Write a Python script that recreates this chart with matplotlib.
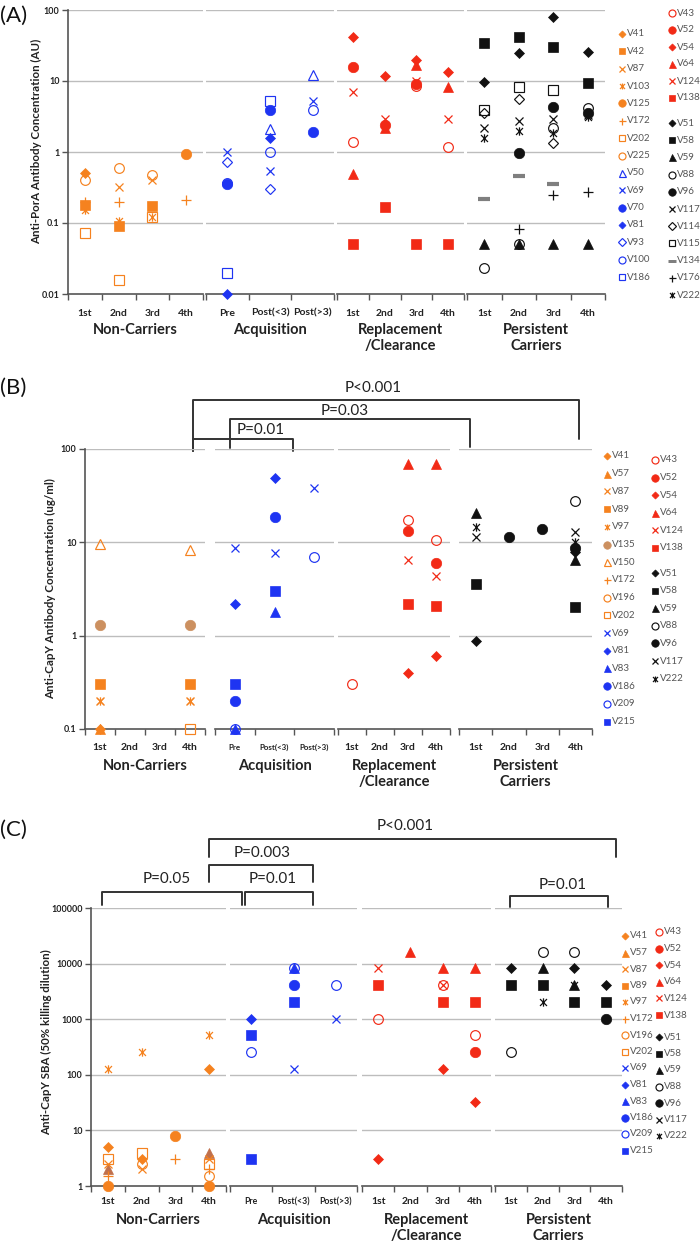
import numpy as np
import matplotlib
matplotlib.use('Agg')
import matplotlib.pyplot as plt
from matplotlib.path import Path

plt.rcParams['font.family'] = ['Lato', 'DejaVu Sans']

W, H = 700, 1246
na = np.nan

# categories: 4 non-carrier visits, 3 acquisition, 4 replacement, 4 persistent
CATS = ['1st', '2nd', '3rd', '4th', 'Pre', 'Post(<3)', 'Post(>3)',
        '1st', '2nd', '3rd', '4th', '1st', '2nd', '3rd', '4th']
GROUP_SIZES = [4, 3, 4, 4]
GROUPS = ['Non-Carriers', 'Acquisition', 'Replacement\n/Clearance', 'Persistent\nCarriers']

# ---- panel A : anti-PorA (AU)
porA = {
    'V41':  [0.5, na, na, na,      na, na, na,       na, na, na, na,        na, na, na, na],
    'V42':  [0.18, 0.09, 0.175, na, na, na, na,      na, na, na, na,        na, na, na, na],
    'V87':  [na, 0.32, 0.4, na,    na, na, na,       na, na, na, na,        na, na, na, na],
    'V103': [0.15, 0.105, 0.12, na, na, na, na,      na, na, na, na,        na, na, na, na],
    'V125': [na, na, na, 0.95,     na, na, na,       na, na, na, na,        na, na, na, na],
    'V172': [0.2, 0.2, na, 0.21,   na, na, na,       na, na, na, na,        na, na, na, na],
    'V202': [0.072, 0.016, 0.12, na, na, na, na,     na, na, na, na,        na, na, na, na],
    'V225': [0.4, 0.6, 0.48, na,   na, na, na,       na, na, na, na,        na, na, na, na],
    'V50':  [na, na, na, na,       na, 2.1, 12,      na, na, na, na,        na, na, na, na],
    'V69':  [na, na, na, na,       1.0, 0.54, 5.2,   na, na, na, na,        na, na, na, na],
    'V70':  [na, na, na, na,       0.36, 3.9, 1.9,   na, na, na, na,        na, na, na, na],
    'V81':  [na, na, na, na,       0.01, 1.6, na,    na, na, na, na,        na, na, na, na],
    'V93':  [na, na, na, na,       0.72, 0.3, na,    na, na, na, na,        na, na, na, na],
    'V100': [na, na, na, na,       0.37, 1.0, 3.9,   na, na, na, na,        na, na, na, na],
    'V186': [na, na, na, na,       0.02, 5.3, na,    na, na, na, na,        na, na, na, na],
    'V43':  [na, na, na, na,       na, na, na,       1.38, na, 8.5, 1.17,   na, na, na, na],
    'V52':  [na, na, na, na,       na, na, na,       15.8, 2.4, 9.0, na,    na, na, na, na],
    'V54':  [na, na, na, na,       na, na, na,       41, 11.8, 20, 13.4,    na, na, na, na],
    'V64':  [na, na, na, na,       na, na, na,       0.49, 2.2, 17, 8.2,    na, na, na, na],
    'V124': [na, na, na, na,       na, na, na,       7, 2.9, 10, 2.9,       na, na, na, na],
    'V138': [na, na, na, na,       na, na, na,       0.05, 0.17, 0.05, 0.05, na, na, na, na],
    'V51':  [na, na, na, na,       na, na, na,       na, na, na, na,        9.7, 24.6, 79, 25.7],
    'V58':  [na, na, na, na,       na, na, na,       na, na, na, na,        34, 42, 30, 9.3],
    'V59':  [na, na, na, na,       na, na, na,       na, na, na, na,        0.05, 0.05, 0.05, 0.05],
    'V88':  [na, na, na, na,       na, na, na,       na, na, na, na,        0.023, 0.05, 2.2, 4.1],
    'V96':  [na, na, na, na,       na, na, na,       na, na, na, na,        na, 0.97, 4.3, 3.6],
    'V117': [na, na, na, na,       na, na, na,       na, na, na, na,        2.2, 2.76, 2.9, 3.3],
    'V114': [na, na, na, na,       na, na, na,       na, na, na, na,        3.5, 5.6, 1.34, na],
    'V115': [na, na, na, na,       na, na, na,       na, na, na, na,        3.9, 8.2, 7.4, na],
    'V134': [na, na, na, na,       na, na, na,       na, na, na, na,        0.22, 0.46, 0.36, na],
    'V176': [na, na, na, na,       na, na, na,       na, na, na, na,        na, 0.083, 0.25, 0.27],
    'V222': [na, na, na, na,       na, na, na,       na, na, na, na,        1.57, 1.98, 1.86, 3.1],
}

# ---- panel B : anti-CapY (ug/ml)
capY = {
    'V41':  [0.1, na, na, na,      na, na, na,       na, na, na, na,        na, na, na, na],
    'V57':  [0.1, na, na, na,      na, na, na,       na, na, na, na,        na, na, na, na],
    'V87':  [0.2, na, na, 0.2,     na, na, na,       na, na, na, na,        na, na, na, na],
    'V89':  [0.3, na, na, 0.3,     na, na, na,       na, na, na, na,        na, na, na, na],
    'V97':  [0.2, na, na, 0.2,     na, na, na,       na, na, na, na,        na, na, na, na],
    'V135': [1.3, na, na, 1.3,     na, na, na,       na, na, na, na,        na, na, na, na],
    'V150': [9.6, na, na, 8.3,     na, na, na,       na, na, na, na,        na, na, na, na],
    'V202': [na, na, na, 0.1,      na, na, na,       na, na, na, na,        na, na, na, na],
    'V69':  [na, na, na, na,       8.7, 7.7, 38.5,   na, na, na, na,        na, na, na, na],
    'V81':  [na, na, na, na,       2.2, 49, na,      na, na, na, na,        na, na, na, na],
    'V83':  [na, na, na, na,       0.1, 1.8, na,     na, na, na, na,        na, na, na, na],
    'V186': [na, na, na, na,       0.2, 18.7, na,    na, na, na, na,        na, na, na, na],
    'V209': [na, na, na, na,       0.1, na, 7.0,     na, na, na, na,        na, na, na, na],
    'V215': [na, na, na, na,       0.3, 3.0, na,     na, na, na, na,        na, na, na, na],
    'V43':  [na, na, na, na,       na, na, na,       0.3, na, 17.3, 10.6,   na, na, na, na],
    'V52':  [na, na, na, na,       na, na, na,       na, na, 13.2, 6.0,     na, na, na, na],
    'V54':  [na, na, na, na,       na, na, na,       na, na, 0.4, 0.6,      na, na, na, na],
    'V64':  [na, na, na, na,       na, na, na,       na, na, 69, 69,        na, na, na, na],
    'V124': [na, na, na, na,       na, na, na,       na, na, 6.5, 4.4,      na, na, na, na],
    'V138': [na, na, na, na,       na, na, na,       na, na, 2.2, 2.1,      na, na, na, na],
    'V51':  [na, na, na, na,       na, na, na,       na, na, na, na,        0.87, na, na, 7.9],
    'V58':  [na, na, na, na,       na, na, na,       na, na, na, na,        3.6, na, na, 2.05],
    'V59':  [na, na, na, na,       na, na, na,       na, na, na, na,        20.6, na, na, 6.5],
    'V88':  [na, na, na, na,       na, na, na,       na, na, na, na,        na, na, na, 27.8],
    'V96':  [na, na, na, na,       na, na, na,       na, na, na, na,        na, 11.3, 13.9, 8.7],
    'V117': [na, na, na, na,       na, na, na,       na, na, na, na,        11.4, na, na, 12.8],
    'V222': [na, na, na, na,       na, na, na,       na, na, na, na,        14.5, na, na, 10],
}

# ---- panel C : anti-CapY SBA (50% killing dilution)
sba = {
    'V41':  [5, 3, na, 128,        na, na, na,       na, na, na, na,        na, na, na, na],
    'V57':  [2, na, na, 4,         na, na, na,       na, na, na, na,        na, na, na, na],
    'V87':  [2.5, 2, na, 3,        na, na, na,       na, na, na, na,        na, na, na, na],
    'V97':  [128, 256, na, 512,    na, na, na,       na, na, na, na,        na, na, na, na],
    'V135': [1, na, 8, 1,          na, na, na,       na, na, na, na,        na, na, na, na],
    'V172': [1.5, na, 3, 2,        na, na, na,       na, na, na, na,        na, na, na, na],
    'V196': [na, 2.5, na, 1.5,     na, na, na,       na, na, na, na,        na, na, na, na],
    'V202': [3, 4, na, 2.5,        na, na, na,       na, na, na, na,        na, na, na, na],
    'V69':  [na, na, na, na,       na, 128, 1024,    na, na, na, na,        na, na, na, na],
    'V81':  [na, na, na, na,       1024, na, na,     na, na, na, na,        na, na, na, na],
    'V83':  [na, na, na, na,       na, 8192, na,     na, na, na, na,        na, na, na, na],
    'V186': [na, na, na, na,       na, 4096, na,     na, na, na, na,        na, na, na, na],
    'V209': [na, na, na, na,       256, 8192, 4096,  na, na, na, na,        na, na, na, na],
    'V215': [na, na, na, na,       (512, 3), 2048, na, na, na, na, na,      na, na, na, na],
    'V43':  [na, na, na, na,       na, na, na,       1024, na, 4096, 512,   na, na, na, na],
    'V52':  [na, na, na, na,       na, na, na,       na, na, na, 256,       na, na, na, na],
    'V54':  [na, na, na, na,       na, na, na,       3, na, 128, 32,        na, na, na, na],
    'V64':  [na, na, na, na,       na, na, na,       na, 16384, 8192, 8192, na, na, na, na],
    'V124': [na, na, na, na,       na, na, na,       8192, na, 4096, na,    na, na, na, na],
    'V138': [na, na, na, na,       na, na, na,       4096, na, 2048, 2048,  na, na, na, na],
    'V51':  [na, na, na, na,       na, na, na,       na, na, na, na,        8192, na, 8192, 4096],
    'V58':  [na, na, na, na,       na, na, na,       na, na, na, na,        4096, 4096, 2048, 2048],
    'V59':  [na, na, na, na,       na, na, na,       na, na, na, na,        na, 8192, 4096, na],
    'V88':  [na, na, na, na,       na, na, na,       na, na, na, na,        256, 16384, 16384, na],
    'V96':  [na, na, na, na,       na, na, na,       na, na, na, na,        na, na, na, 1024],
    'V222': [na, na, na, na,       na, na, na,       na, na, na, na,        na, 2048, 4096, na],
}

# legend order (per column)
LEG_A = [['V41', 'V42', 'V87', 'V103', 'V125', 'V172', 'V202', 'V225',
          'V50', 'V69', 'V70', 'V81', 'V93', 'V100', 'V186'],
         ['V43', 'V52', 'V54', 'V64', 'V124', 'V138'],
         ['V51', 'V58', 'V59', 'V88', 'V96', 'V117', 'V114', 'V115', 'V134', 'V176', 'V222']]
LEG_B = [['V41', 'V57', 'V87', 'V89', 'V97', 'V135', 'V150', 'V172', 'V196', 'V202',
          'V69', 'V81', 'V83', 'V186', 'V209', 'V215'],
         ['V43', 'V52', 'V54', 'V64', 'V124', 'V138'],
         ['V51', 'V58', 'V59', 'V88', 'V96', 'V117', 'V222']]
LEG_C = [['V41', 'V57', 'V87', 'V89', 'V97', 'V172', 'V196', 'V202',
          'V69', 'V81', 'V83', 'V186', 'V209', 'V215'],
         ['V43', 'V52', 'V54', 'V64', 'V124', 'V138'],
         ['V51', 'V58', 'V59', 'V88', 'V96', 'V117', 'V222']]

# p-value brackets: left x, right x, top y, left foot, right foot, label
BRK_B = [(193, 579, 400, 451, 439, 'P<0.001'),
         (230, 470, 419, 448, 447, 'P=0.03'),
         (193, 293, 439, 451, 451, 'P=0.01')]
BRK_B_TXT = [(373, 388), (345, 411), (261, 430)]
BRK_C = [(102, 242, 892, 905, 905, 'P=0.05'),
         (245, 313, 892, 905, 905, 'P=0.01'),
         (209, 313, 865, 882, 882, 'P=0.003'),
         (209, 616, 839, 857, 857, 'P<0.001'),
         (510, 608, 896, 907, 907, 'P=0.01')]
BRK_C_TXT = [(167, 879), (273, 879), (262, 853), (405, 826), (563, 885)]

ORANGE = '#F5821F'
TAN = '#CC9060'
BROWN = '#C0704C'
BLUE = '#1E34F2'
RED = '#F22A16'
BLACK = '#111111'
GRAY = '#7F7F7F'

STYLE = {
    'V41': ('dia', ORANGE), 'V42': ('sq', ORANGE), 'V57': ('tri', ORANGE), 'V87': ('x', ORANGE),
    'V89': ('sq', ORANGE), 'V97': ('ast', ORANGE), 'V103': ('ast', ORANGE), 'V125': ('circ', ORANGE),
    'V135': ('circ', TAN), 'V150': ('otri', ORANGE), 'V172': ('plus', ORANGE),
    'V196': ('ocirc', ORANGE), 'V202': ('osq', ORANGE), 'V225': ('ocirc', ORANGE),
    'V50': ('otri', BLUE), 'V69': ('x', BLUE), 'V70': ('circ', BLUE), 'V81': ('dia', BLUE),
    'V83': ('tri', BLUE), 'V93': ('odia', BLUE), 'V100': ('ocirc', BLUE), 'V186': ('circ', BLUE),
    'V209': ('ocirc', BLUE), 'V215': ('sq', BLUE),
    'V43': ('ocirc', RED), 'V52': ('circ', RED), 'V54': ('dia', RED), 'V64': ('tri', RED),
    'V124': ('x', RED), 'V138': ('sq', RED),
    'V51': ('dia', BLACK), 'V58': ('sq', BLACK), 'V59': ('tri', BLACK), 'V88': ('ocirc', BLACK),
    'V96': ('circ', BLACK), 'V117': ('x', BLACK), 'V114': ('odia', BLACK), 'V115': ('osq', BLACK),
    'V134': ('dash', GRAY), 'V176': ('plus', BLACK), 'V222': ('ast', BLACK),
}
OVERRIDE = [{'V186': ('osq', BLUE)}, {}, {'V57': ('tri', BROWN), 'V135': ('circ', ORANGE)}]
LEG_OVERRIDE = [{}, {}, {'V57': ('tri', ORANGE)}]

AST = Path([(-1, -1), (1, 1), (-1, 1), (1, -1), (0, -1.2), (0, 1.2)],
           [Path.MOVETO, Path.LINETO, Path.MOVETO, Path.LINETO, Path.MOVETO, Path.LINETO])


def marker_kw(kind, color, scale=1.0):
    spec = {'dia': ('D', 5.0, 'fill'), 'sq': ('s', 6.5, 'fill'), 'tri': ('^', 7.0, 'fill'),
            'circ': ('o', 7.5, 'fill'), 'x': ('x', 6.0, 'line'), 'plus': ('+', 7.0, 'line'),
            'ast': (AST, 6.0, 'line'), 'ocirc': ('o', 7.0, 'open'), 'osq': ('s', 6.8, 'open'),
            'otri': ('^', 7.0, 'open'), 'odia': ('D', 5.5, 'open'), 'dash': ('_', 8.0, 'dash')}
    m, ms, how = spec[kind]
    kw = dict(marker=m, ms=ms * scale, linestyle='none', mec=color)
    if how == 'fill':
        kw.update(mfc=color, mew=0.5)
    elif how == 'open':
        kw.update(mfc='none', mew=0.85)
    elif how == 'dash':
        kw.update(mew=3.0 * scale)
    else:
        kw.update(mfc='none', mew=0.9)
    return kw


def px_axes(fig, x0, x1, y0, y1):
    return fig.add_axes([x0 / W, 1 - y1 / H, (x1 - x0) / W, (y1 - y0) / H])


PANELS = [
    dict(data=porA, ylim=(0.01, 100), yt=['0.01', '0.1', '1', '10', '100'], top=10, bottom=294,
         spans=[(68, 203), (206, 334), (337, 464), (467, 605)], cat_y=313, grp_y=323,
         cat_fs=[7.5, 7.5, 7.5, 7.5], ylabel='Anti-PorA Antibody Concentration (AU)', ylab_xy=(37, 141),
         letter='(A)', letter_y=16, leg=LEG_A, leg_cols=[(622, 34, 17.36), (672, 13, 17.0), (672, 123, 17.2)]),
    dict(data=capY, ylim=(0.1, 100), yt=['0.1', '1', '10', '100'], top=449, bottom=729,
         spans=[(85, 205), (215, 334), (338, 450), (459, 592)], cat_y=747, grp_y=759,
         cat_fs=[7.5, 5.8, 7.5, 7.5], ylabel='Anti-CapY Antibody Concentration (ug/ml)', ylab_xy=(51, 589),
         letter='(B)', letter_y=388, leg=LEG_B, leg_cols=[(607, 456, 17.7), (655, 460, 17.6), (655, 573, 17.6)]),
    dict(data=sba, ylim=(1, 100000), yt=['1', '10', '100', '1000', '10000', '100000'], top=908, bottom=1186,
         spans=[(91, 226), (230, 357), (362, 491), (495, 622)], cat_y=1202, grp_y=1213,
         cat_fs=[7.5, 6.3, 7.5, 7.5], ylabel='Anti-CapY SBA (50% killing dilution)', ylab_xy=(47, 1042),
         letter='(C)', letter_y=830, leg=LEG_C, leg_cols=[(625, 936, 16.5), (659, 932, 16.6), (659, 1037, 16.5)]),
]

fig = plt.figure(figsize=(W / 100, H / 100), dpi=100)
ov = fig.add_axes([0, 0, 1, 1])
ov.set_xlim(0, W)
ov.set_ylim(H, 0)
ov.axis('off')

starts = np.cumsum([0] + GROUP_SIZES[:-1])

for pi, P in enumerate(PANELS):
    style = dict(STYLE)
    style.update(OVERRIDE[pi])
    leg_style = dict(style)
    leg_style.update(LEG_OVERRIDE[pi])
    lo, hi = P['ylim']
    decades = [10.0 ** k for k in range(int(round(np.log10(lo))), int(round(np.log10(hi))) + 1)]
    axes = []
    for g, (x0, x1) in enumerate(P['spans']):
        n = GROUP_SIZES[g]
        ax = px_axes(fig, x0, x1, P['top'], P['bottom'])
        ax.set_yscale('log')
        ax.set_ylim(lo, hi)
        ax.set_xlim(-0.5, n - 0.5)
        for s in ['top', 'right']:
            ax.spines[s].set_visible(False)
        ax.spines['bottom'].set_color('#555555')
        ax.spines['bottom'].set_linewidth(1.2)
        for d in decades[1:]:
            ax.axhline(d, color='#BDBDBD', lw=1.0, zorder=0)
        ax.set_xticks(np.arange(n + 1) - 0.5)
        ax.set_xticklabels([])
        ax.tick_params(axis='x', direction='out', length=4, width=1.0, color='#555555')
        ax.yaxis.set_minor_locator(matplotlib.ticker.NullLocator())
        if g == 0:
            ax.spines['left'].set_color('#555555')
            ax.spines['left'].set_linewidth(1.2)
            ax.set_yticks(decades)
            ax.set_yticklabels(P['yt'], fontsize=6.5, fontweight='bold', color='#222222')
            ax.tick_params(axis='y', direction='out', length=4, width=1.0, color='#555555', pad=2)
        else:
            ax.spines['left'].set_visible(False)
            ax.set_yticks([])
        ax.patch.set_alpha(0)
        axes.append(ax)
        # category and group labels
        step = (x1 - x0) / n
        for j in range(n):
            ov.text(x0 + (j + 0.5) * step, P['cat_y'], CATS[starts[g] + j], ha='center', va='center',
                    fontsize=P['cat_fs'][g], fontweight='bold', color='#222222')
        ov.text((x0 + x1) / 2, P['grp_y'], GROUPS[g], ha='center', va='top', fontsize=10.5,
                fontweight='bold', color='#222222', linespacing=1.15)

    # data points
    for name, vals in P['data'].items():
        kw = marker_kw(*style[name])
        pts = [[] for _ in GROUP_SIZES]
        for i, v in enumerate(vals):
            g = int(np.searchsorted(starts, i, side='right') - 1)
            vs = v if isinstance(v, tuple) else (v,)
            for vv in vs:
                if not np.isnan(vv):
                    pts[g].append((i - starts[g], vv))
        for g, pl in enumerate(pts):
            if pl:
                xs, ys = zip(*pl)
                axes[g].plot(xs, ys, clip_on=False, zorder=3, **kw)

    ov.text(P['ylab_xy'][0], P['ylab_xy'][1], P['ylabel'], rotation=90, ha='center', va='center',
            fontsize=8.3, fontweight='bold', color='#222222')
    ov.text(0, P['letter_y'], P['letter'], ha='left', va='center', fontsize=16, color='#111111')

    # legend columns
    for names, (lx, ly, dy) in zip(P['leg'], P['leg_cols']):
        for k, name in enumerate(names):
            yy = ly + k * dy
            ov.plot([lx], [yy], **marker_kw(*leg_style[name], scale=0.72))
            ov.text(lx + 5, yy, name, ha='left', va='center', fontsize=7, color='#555555')

# significance brackets
for brk, txt in [(BRK_B, BRK_B_TXT), (BRK_C, BRK_C_TXT)]:
    for (xl, xr, yt, yl, yr, lab), (tx, ty) in zip(brk, txt):
        ov.plot([xl, xl, xr, xr], [yl, yt, yt, yr], color='#333333', lw=1.4,
                solid_joinstyle='round', solid_capstyle='round')
        ov.text(tx, ty, lab, ha='center', va='center', fontsize=11, color='#222222')

fig.savefig('out.png', dpi=100)
